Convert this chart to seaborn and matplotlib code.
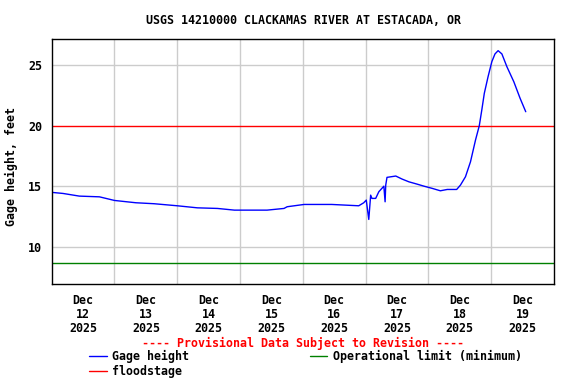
import numpy as np
import pandas as pd
import matplotlib
matplotlib.use("Agg")
import matplotlib.pyplot as plt
from matplotlib.lines import Line2D
import seaborn as sns

# days since Dec 12 2025 00:00, gage height in feet
days = [0.0, 0.18, 0.44, 0.76, 1.0, 1.34, 1.63, 2.0, 2.32, 2.64, 2.91, 3.43,
        3.70, 3.75, 4.02, 4.46, 4.89, 4.97, 5.01, 5.05, 5.08, 5.10, 5.16,
        5.21, 5.29, 5.31, 5.32, 5.34, 5.48, 5.58, 5.69, 5.82, 5.93, 6.06,
        6.19, 6.30, 6.45, 6.51, 6.59, 6.67, 6.75, 6.81, 6.85, 6.89, 6.95,
        7.01, 7.06, 7.11, 7.17, 7.25, 7.36, 7.46, 7.55]
gage = [14.49, 14.40, 14.18, 14.12, 13.82, 13.63, 13.55, 13.38, 13.21, 13.16,
        13.02, 13.02, 13.16, 13.30, 13.49, 13.49, 13.38, 13.63, 13.85, 12.25,
        14.26, 13.99, 13.99, 14.54, 15.00, 13.71, 15.09, 15.73, 15.84, 15.59,
        15.36, 15.17, 15.00, 14.82, 14.62, 14.73, 14.73, 15.09, 15.78, 17.02,
        18.82, 20.00, 21.30, 22.68, 24.06, 25.30, 25.94, 26.21, 25.94, 24.88,
        23.64, 22.27, 21.16]
day_labels = ["Dec\n12\n2025", "Dec\n13\n2025", "Dec\n14\n2025", "Dec\n15\n2025",
              "Dec\n16\n2025", "Dec\n17\n2025", "Dec\n18\n2025", "Dec\n19\n2025"]
y_ticks = [10, 15, 20, 25]
floodstage = 20.0
op_limit = 8.63

df = pd.DataFrame({"day": days, "gage": gage})

sns.set_style("white")
plt.rcParams["font.family"] = ["DejaVu Sans Mono"]
plt.rcParams["font.weight"] = "bold"
plt.rcParams["text.color"] = "black"
plt.rcParams["axes.labelcolor"] = "black"
plt.rcParams["xtick.color"] = "black"
plt.rcParams["ytick.color"] = "black"
fs = 8.4

fig = plt.figure(figsize=(5.76, 3.84), dpi=100)
ax = fig.add_axes([51.7 / 576, 1 - 284 / 384, (554 - 51.7) / 576, (284 - 39.3) / 384])

ax.set_xlim(0, 8)
ax.set_ylim(6.91, 27.15)

# grid
for d in range(1, 8):
    ax.axvline(d, color="#cccccc", lw=1, zorder=0)
for v in [10, 15, 25]:
    ax.axhline(v, color="#cccccc", lw=1, zorder=0)

ax.axhline(floodstage, color="#ff0000", lw=1, zorder=1)
ax.axhline(op_limit, color="#008000", lw=1, zorder=1)

sns.lineplot(data=df, x="day", y="gage", ax=ax, color="#0000ff", lw=1, zorder=2)

ax.set_xticks([i + 0.5 for i in range(8)])
ax.set_xticklabels(day_labels, fontsize=fs, fontweight="bold", linespacing=1.12)
ax.set_yticks(y_ticks)
ax.set_yticklabels([str(t) for t in y_ticks], fontsize=fs, fontweight="bold")
ax.tick_params(axis="both", length=0)
ax.tick_params(axis="x", pad=7)
ax.tick_params(axis="y", pad=7)
ax.set_xlabel("")
ax.set_ylabel("Gage height, feet", fontsize=fs, fontweight="bold")
ax.yaxis.set_label_coords(-0.068, 0.48)
for s in ax.spines.values():
    s.set_color("black")
    s.set_linewidth(1)

fig.text(303 / 576, 1 - 20 / 384, "USGS 14210000 CLACKAMAS RIVER AT ESTACADA, OR",
         ha="center", va="center", fontsize=fs, fontweight="bold")
fig.text(303 / 576, 1 - 343.3 / 384, "---- Provisional Data Subject to Revision ----",
         ha="center", va="center", fontsize=fs, fontweight="bold", color="#ff0000")

handles = [Line2D([], [], color="#0000ff", lw=1),
           Line2D([], [], color="#ff0000", lw=1),
           Line2D([], [], color="#008000", lw=1)]
labels = ["Gage height", "floodstage", "Operational limit (minimum)"]
fig.legend(handles, labels, ncol=2, loc="upper left",
           bbox_to_anchor=(89 / 576, 1 - 350 / 384), frameon=False,
           prop={"size": fs, "weight": "bold"}, handlelength=1.5,
           handletextpad=0.5, columnspacing=10.3, labelspacing=0.2,
           borderaxespad=0, borderpad=0)

fig.savefig("out.png", dpi=100)
